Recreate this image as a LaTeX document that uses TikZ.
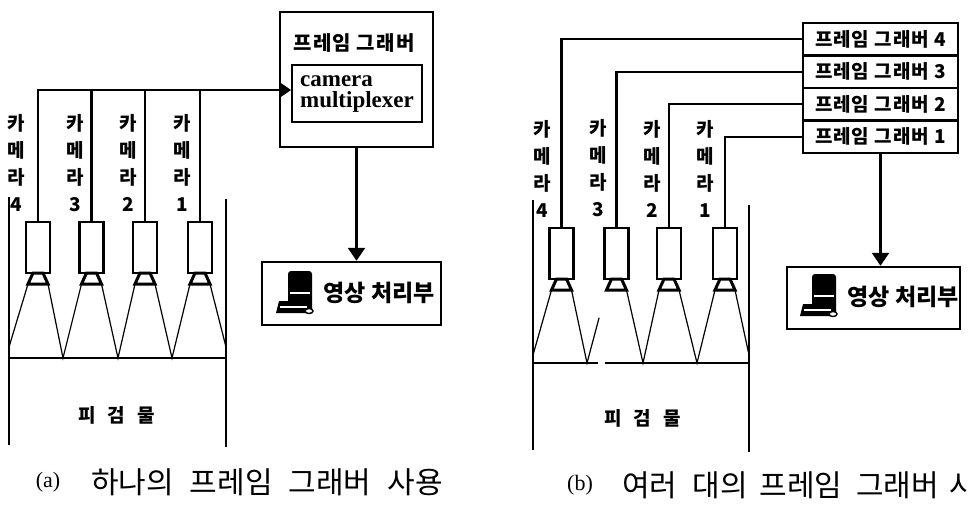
\documentclass[tikz,border=0pt]{standalone}
\usepackage{fontspec}
\setmainfont{Liberation Serif}
\newfontfamily\kr{Noto Sans CJK KR}
\newfontfamily\krwide{Noto Sans CJK KR}[LetterSpace=5]
\newfontfamily\krmid{Noto Sans CJK KR}[LetterSpace=6]
\usetikzlibrary{arrows.meta,calc}

\tikzset{
  wall/.style={line width=1.2pt},
  ray/.style={line width=1.2pt},
  floorline/.style={line width=2.6pt},
  wire/.style={line width=2.4pt},
  frame/.style={draw, line width=2.4pt, inner sep=0pt},
  busarrow/.style={wire, -{Triangle[length=10pt,width=13pt]}},
  downarrow/.style={wire, -{Triangle[length=13pt,width=17pt]}},
  camlabel/.style={font=\kr\bfseries\fontsize{19}{27}\selectfont, align=center, inner sep=0pt},
  objlabel/.style={font=\kr\bfseries\fontsize{19}{19}\selectfont, inner sep=0pt},
  caption/.style={font=\kr\fontsize{30}{30}\selectfont, inner sep=0pt, anchor=west},
  tag/.style={font=\fontsize{22}{22}\selectfont, inner sep=0pt},
  camera/.pic={
    \draw[line width=2.4pt] (-12,0) rectangle (12,51);
    \draw[line width=3pt, line join=miter] (-5,51) -- (5,51) -- (10,62) -- (-10,62) -- cycle;
    \coordinate (-top) at (0,0);
    \coordinate (-ll) at (-10,62);
    \coordinate (-lr) at (10,62);
  },
  pc/.pic={
    \fill[rounded corners=3pt] (1,0) rectangle (25,33);
    \fill (-8,30) -- (25,30) -- (25,42) -- (-11,42) -- cycle;
    \draw[white, line width=1.2pt] (3,22) -- (23,22);
    \draw[white, line width=1.2pt] (-7,36) -- (20,36);
    \filldraw[fill=white, draw=black, line width=1.4pt] (22,40) ellipse (4 and 2.5);
  }
}

\begin{document}
\begin{tikzpicture}[x=1pt, y=-1pt]
\useasboundingbox (0,0) rectangle (968,504);

% ---------------- (a) one frame grabber ----------------
% scene: walls and floor
\coordinate (aWL) at (9,347);
\coordinate (aF1) at (63,358);
\coordinate (aF2) at (118,358);
\coordinate (aF3) at (172,358);
\coordinate (aWR) at (226,347);
\draw[wall] (9,197) -- (9,445);
\draw[wall] (226,199) -- (226,447);
\draw[floorline] (9,358) -- (226,358);

% cameras
\pic (ca4) at (38,222) {camera};
\pic (ca3) at (91.5,222) {camera};
\pic (ca2) at (145,222) {camera};
\pic (ca1) at (200,222) {camera};

% fields of view
\draw[ray] (ca4-ll) -- (aWL);
\draw[ray] (ca4-lr) -- (aF1) -- (ca3-ll);
\draw[ray] (ca3-lr) -- (aF2) -- (ca2-ll);
\draw[ray] (ca2-lr) -- (aF3) -- (ca1-ll);
\draw[ray] (ca1-lr) -- (aWR);

% camera labels
\node[camlabel] (la4) at (16,163) {카\\메\\라\\4};
\node[camlabel] (la3) at (75,163) {카\\메\\라\\3};
\node[camlabel] (la2) at (128,163) {카\\메\\라\\2};
\node[camlabel] (la1) at (182,163) {카\\메\\라\\1};

% frame grabber with multiplexer
\node[frame, minimum width=153pt, minimum height=135pt] (fg) at (356.5,79.5) {};
\node[font=\krmid\bfseries\fontsize{20}{20}\selectfont, inner sep=0pt] (fgt) at (354,43) {프레임 그래버};
\node[draw, line width=1.8pt, minimum width=130pt, minimum height=57pt, align=left,
      font=\bfseries\fontsize{23}{21}\selectfont, inner sep=0pt] (mux) at (357,93.5) {camera\\multiplexer};

% camera bus
\coordinate (bus) at (0,90);
\draw[busarrow] (ca4-top) |- (mux.west |- bus);
\draw[wire] (ca3-top) -- (ca3-top |- bus);
\draw[wire] (ca2-top) -- (ca2-top |- bus);
\draw[wire] (ca1-top) -- (ca1-top |- bus);

% image processing unit
\node[frame, minimum width=179pt, minimum height=63pt] (proc) at (351.5,293.5) {};
\pic (pca) at (287,271) {pc};
\node[font=\kr\bfseries\fontsize{23}{23}\selectfont, inner sep=0pt] (proct) at (379,293) {영상 처리부};
\draw[downarrow] (fg.south) -- (fg.south |- proc.north);

% object and caption
\node[objlabel] (obja) at (117,415) {피\hspace{11pt}검\hspace{13pt}물};
\node[tag] (capa) at (48,482) {(a)};
\node[caption] (capat) at (91,482) {하나의\hspace{16pt}프레임\hspace{16pt}그래버\hspace{16pt}사용};

% ---------------- (b) several frame grabbers ----------------
\coordinate (bWL) at (533,355);
\coordinate (bF1) at (587,363);
\coordinate (bF2) at (643,363);
\coordinate (bF3) at (697,363);
\coordinate (bWR) at (749,355);
\draw[wall] (533,200) -- (533,450);
\draw[wall] (749,205) -- (749,452);
\draw[floorline] (533,363) -- (598,363);
\draw[floorline] (605,363) -- (749,363);

\pic (cb4) at (561.5,228) {camera};
\pic (cb3) at (616.5,228) {camera};
\pic (cb2) at (669,228) {camera};
\pic (cb1) at (725,228) {camera};

\draw[ray] (cb4-ll) -- (bWL);
\draw[ray] (cb4-lr) -- (bF1) -- ($(bF1)!0.62!(cb3-ll)$);
\draw[ray] (cb3-lr) -- (bF2) -- (cb2-ll);
\draw[ray] (cb2-lr) -- (bF3) -- (cb1-ll);
\draw[ray] (cb1-lr) -- (bWR);

\node[camlabel] (lb4) at (542,168.5) {카\\메\\라\\4};
\node[camlabel] (lb3) at (598,168.5) {카\\메\\라\\3};
\node[camlabel] (lb2) at (652,168.5) {카\\메\\라\\2};
\node[camlabel] (lb1) at (705,168.5) {카\\메\\라\\1};

% stacked frame grabbers
\tikzset{grab/.style={frame, minimum width=155pt, minimum height=32.5pt,
  font=\krwide\bfseries\fontsize{19}{19}\selectfont}}
\node[grab] (g4) at (880.5,39.25) {프레임 그래버 4};
\node[grab] (g3) at (880.5,71.75) {프레임 그래버 3};
\node[grab] (g2) at (880.5,104.25) {프레임 그래버 2};
\node[grab] (g1) at (880.5,136.75) {프레임 그래버 1};

\draw[wire] (cb4-top) |- (g4.west);
\draw[wire] (cb3-top) |- (g3.west);
\draw[wire] (cb2-top) |- (g2.west);
\draw[wire] (cb1-top) |- (g1.west);

\node[frame, minimum width=173pt, minimum height=62pt] (procb) at (873.5,298) {};
\pic (pcb) at (811,274) {pc};
\node[font=\kr\bfseries\fontsize{23}{23}\selectfont, inner sep=0pt] (procbt) at (903,297) {영상 처리부};
\draw[downarrow] (g1.south) -- (g1.south |- procb.north);

\node[objlabel] (objb) at (643,418) {피\hspace{11pt}검\hspace{13pt}물};
\node[tag] (capb) at (580,485) {(b)};
\node[caption] (capbt) at (622,485) {여러\hspace{15pt}대의\hspace{12pt}프레임\hspace{14pt}그래버\hspace{10pt}사용};
\end{tikzpicture}
\end{document}
